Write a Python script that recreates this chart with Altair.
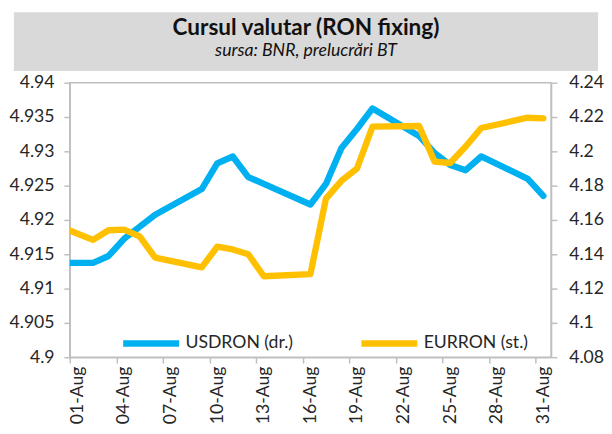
import altair as alt
import pandas as pd

# ---- data ----
dates = ["2021-07-30", "2021-08-02", "2021-08-03", "2021-08-04", "2021-08-05", "2021-08-06",
         "2021-08-09", "2021-08-10", "2021-08-11", "2021-08-12", "2021-08-13",
         "2021-08-16", "2021-08-17", "2021-08-18", "2021-08-19", "2021-08-20",
         "2021-08-23", "2021-08-24", "2021-08-25", "2021-08-26", "2021-08-27",
         "2021-08-30", "2021-08-31"]
usdron = [4.135, 4.135, 4.139, 4.149, 4.156, 4.163,
          4.178, 4.193, 4.197, 4.185, 4.181,
          4.169, 4.181, 4.202, 4.213, 4.225,
          4.209, 4.199, 4.192, 4.189, 4.197,
          4.184, 4.174]
eurron = [4.9198, 4.9171, 4.9185, 4.9186, 4.9176, 4.9145,
          4.9131, 4.9161, 4.9157, 4.9150, 4.9118,
          4.9121, 4.9231, 4.9257, 4.9275, 4.9336,
          4.9337, 4.9285, 4.9283, 4.9307, 4.9334,
          4.9349, 4.9348]
series_names = ["USDRON (dr.)", "EURRON (st.)"]
series_colors = ["#00B0F0", "#FFC000"]
x_tick_days = [1, 4, 7, 10, 13, 16, 19, 22, 25, 28, 31]
left_ticks = [4.9, 4.905, 4.91, 4.915, 4.92, 4.925, 4.93, 4.935, 4.94]
right_ticks = [4.08, 4.10, 4.12, 4.14, 4.16, 4.18, 4.20, 4.22, 4.24]
title_text = "Cursul valutar (RON fixing)"
subtitle_text = "sursa: BNR, prelucrări BT"

# ---- build table ----
ref = pd.Timestamp("2021-07-31")
day = [(pd.Timestamp(d) - ref).days for d in dates]
n = len(dates)
df = pd.DataFrame({
    "day": day * 2,
    "value": usdron + eurron,
    "series": [series_names[0]] * n + [series_names[1]] * n,
})

W, H = 491, 280
FONT = "Lato"
TXT = "#262626"
FS = 18
slot = W / 31.0

color = alt.Color(
    "series:N",
    scale=alt.Scale(domain=series_names, range=series_colors),
    legend=alt.Legend(
        title=None, orient="none", legendX=51, legendY=234, direction="horizontal",
        symbolType="stroke", symbolStrokeWidth=6.5, symbolSize=3249,
        labelFont=FONT, labelFontSize=FS, labelColor=TXT, labelOffset=3,
        columnPadding=56, padding=0,
    ),
)

xenc = alt.X(
    "day:Q",
    scale=alt.Scale(domain=[0.5, 31.5], nice=False, zero=False),
    axis=alt.Axis(
        title=None, values=[d - 0.5 for d in x_tick_days],
        labelExpr="(datum.value + 0.5 < 10 ? '0' : '') + format(datum.value + 0.5, 'd') + '-Aug'",
        labelAngle=270, labelOffset=slot / 2, labelPadding=3,
    ),
)

base = alt.Chart(df)

eur_line = base.transform_filter(alt.datum.series == series_names[1]).mark_line(
    strokeWidth=6.5, strokeCap="round", strokeJoin="round", clip=True
).encode(
    x=xenc,
    y=alt.Y("value:Q", scale=alt.Scale(domain=[4.9, 4.94], nice=False, zero=False),
            axis=alt.Axis(title=None, orient="left", values=left_ticks, labelPadding=10,
                          labelExpr="format(datum.value, '~g')")),
    color=color,
)

usd_line = base.transform_filter(alt.datum.series == series_names[0]).mark_line(
    strokeWidth=6.5, strokeCap="round", strokeJoin="round", clip=True
).encode(
    x=xenc,
    y=alt.Y("value:Q", scale=alt.Scale(domain=[4.08, 4.24], nice=False, zero=False),
            axis=alt.Axis(title=None, orient="right", values=right_ticks, labelPadding=12,
                          labelExpr="format(datum.value, '~g')")),
    color=color,
)

one = pd.DataFrame({"t": [title_text], "s": [subtitle_text]})
bg = alt.Chart(one).mark_rect(color="#d9d9d9").encode(
    x=alt.value(-57), x2=alt.value(W + 48), y=alt.value(-72), y2=alt.value(-12)
)
title = alt.Chart(one).mark_text(
    font="Liberation Sans Narrow, Lato", fontSize=23, fontWeight="bold", color="#111111",
    align="center", baseline="alphabetic"
).encode(x=alt.value(241), y=alt.value(-49), text="t:N")
subtitle = alt.Chart(one).mark_text(
    font="Liberation Sans Narrow, Lato", fontSize=18, fontStyle="italic", color="#111111",
    align="center", baseline="alphabetic"
).encode(x=alt.value(241), y=alt.value(-27), text="s:N")

chart = alt.layer(bg, title, subtitle, usd_line, eur_line).resolve_scale(
    y="independent"
).properties(
    width=W, height=H, padding={"left": 0, "top": 0, "right": 0, "bottom": 0}
).configure_view(
    stroke="#bfbfbf", strokeWidth=1.5
).configure_axis(
    grid=False, domainColor="#bfbfbf", domainWidth=1.5, tickColor="#bfbfbf",
    tickWidth=1.5, tickSize=6, labelFont=FONT, labelFontSize=FS, labelColor=TXT,
)

chart.save("out.html", embed_options={"renderer": "svg", "actions": False})
